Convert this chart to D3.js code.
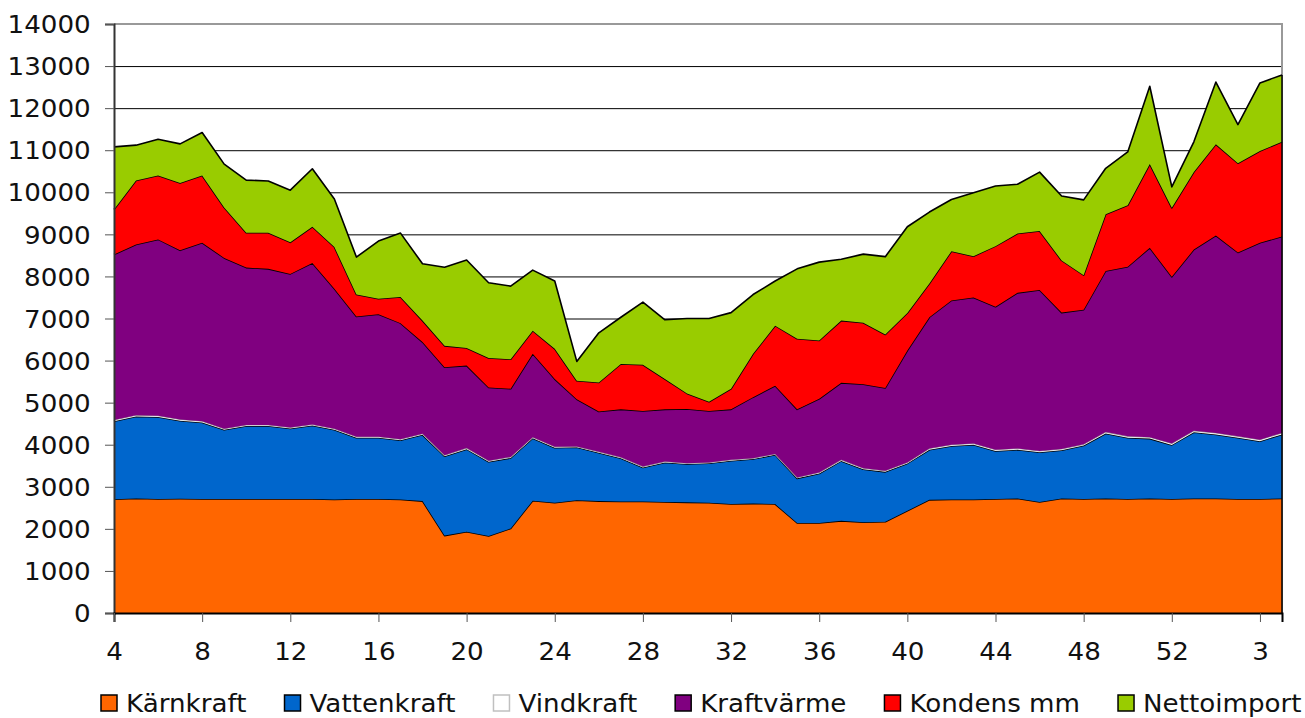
<!DOCTYPE html>
<html>
<head>
<meta charset="utf-8">
<script src="https://cdn.jsdelivr.net/npm/d3@7"></script>
<style>
  body { margin: 0; background: #fff; }
  svg { display: block; font-family: "DejaVu Sans", Verdana, sans-serif; }
</style>
</head>
<body>
<div id="chart"></div>
<script>
// Week numbers (week 4 one year through week 4 the next)
const weeks = [4, 5, 6, 7, 8, 9, 10, 11, 12, 13, 14, 15, 16, 17, 18, 19, 20, 21, 22, 23,
    24, 25, 26, 27, 28, 29, 30, 31, 32, 33, 34, 35, 36, 37, 38, 39, 40, 41, 42, 43,
    44, 45, 46, 47, 48, 49, 50, 51, 52, 53, 1, 2, 3, 4];

const karnkraft = [2706, 2720, 2710, 2715, 2710, 2710, 2710, 2710, 2710, 2710,
    2700, 2710, 2710, 2700, 2660, 1840, 1930, 1830, 2010, 2670,
    2620, 2680, 2660, 2650, 2650, 2640, 2630, 2620, 2590, 2600,
    2590, 2140, 2140, 2190, 2160, 2170, 2430, 2690, 2700, 2700,
    2710, 2720, 2640, 2720, 2710, 2720, 2710, 2720, 2710, 2720,
    2720, 2710, 2710, 2720];

const vattenkraft = [1854, 1950, 1950, 1855, 1820, 1645, 1735, 1735, 1675, 1745,
    1655, 1455, 1455, 1405, 1575, 1885, 1965, 1765, 1675, 1485,
    1310, 1260, 1150, 1030, 810, 940, 910, 940, 1030, 1060,
    1170, 1060, 1175, 1425, 1255, 1185, 1125, 1190, 1270, 1300,
    1140, 1160, 1180, 1150, 1270, 1545, 1455, 1425, 1285, 1575,
    1525, 1455, 1375, 1525];

const vindkraft = [30, 30, 30, 30, 30, 25, 25, 25, 25, 25,
    25, 25, 25, 25, 25, 25, 25, 25, 25, 25,
    20, 20, 20, 20, 20, 20, 20, 20, 20, 20,
    20, 20, 25, 25, 25, 25, 25, 30, 30, 30,
    30, 30, 30, 30, 30, 35, 35, 35, 35, 35,
    35, 35, 35, 35];

const kraftvarme = [3930, 4060, 4190, 4020, 4240, 4060, 3740, 3710, 3650, 3840,
    3330, 2860, 2910, 2760, 2180, 2090, 1960, 1740, 1620, 1980,
    1610, 1120, 960, 1140, 1320, 1240, 1290, 1220, 1200, 1450,
    1620, 1620, 1750, 1830, 2000, 1970, 2660, 3120, 3430, 3470,
    3400, 3700, 3830, 3240, 3200, 3830, 4030, 4500, 3960, 4310,
    4690, 4370, 4680, 4670];

const kondens = [1070, 1520, 1520, 1600, 1600, 1200, 830, 860, 750, 860,
    990, 520, 370, 620, 510, 510, 420, 700, 700, 550,
    720, 440, 690, 1080, 1100, 720, 370, 220, 490, 1030,
    1430, 1680, 1390, 1480, 1460, 1270, 890, 800, 1170, 980,
    1440, 1410, 1400, 1240, 820, 1350, 1460, 1990, 1640, 1840,
    2170, 2120, 2180, 2250];

const nettoimport = [1490, 840, 860, 930, 1020, 1030, 1250, 1230, 1240, 1380,
    1140, 890, 1370, 1520, 1350, 1870, 2090, 1790, 1740, 1440,
    1610, 460, 1180, 1110, 1490, 1410, 1780, 1980, 1810, 1410,
    1060, 1660, 1860, 1460, 1630, 1850, 2050, 1700, 1230, 1510,
    1430, 1170, 1400, 1530, 1790, 1090, 1270, 1850, 500, 720,
    1480, 920, 1620, 1590];

const seriesNames = ["Kärnkraft", "Vattenkraft", "Vindkraft", "Kraftvärme", "Kondens mm", "Nettoimport"];
const seriesValues = [karnkraft, vattenkraft, vindkraft, kraftvarme, kondens, nettoimport];
const colors = ["#FF6600", "#0066CC", "#FFFFFF", "#800080", "#FF0000", "#99CC00"];
const yTicks = [0, 1000, 2000, 3000, 4000, 5000, 6000, 7000, 8000, 9000, 10000, 11000, 12000, 13000, 14000];

// table for d3.stack
const table = weeks.map((w, i) => {
    const row = { idx: i };
    seriesNames.forEach((name, j) => { row[name] = seriesValues[j][i]; });
    return row;
});

const width = 1305;
const height = 718;
const plot = { left: 114, right: 1282, top: 24, bottom: 613 };
const stretch = 1.09; // text in the original is a bit wide
const font = '"DejaVu Sans", Verdana, sans-serif';

const svg = d3.select("#chart")
    .append("svg")
    .attr("width", width)
    .attr("height", height);

const x = d3.scalePoint()
    .domain(d3.range(weeks.length))
    .range([plot.left, plot.right]);

const y = d3.scaleLinear()
    .domain([0, 14000])
    .range([plot.bottom, plot.top]);

// gridlines
svg.append("g")
    .selectAll("line")
    .data(yTicks.filter(d => d > 0 && d < 14000))
    .join("line")
    .attr("x1", plot.left)
    .attr("x2", plot.right)
    .attr("y1", d => y(d) + 0.5)
    .attr("y2", d => y(d) + 0.5)
    .attr("stroke", "#000")
    .attr("stroke-width", 1);

// plot border top + right
svg.append("path")
    .attr("d", `M${plot.left},${y(14000)}H${plot.right}V${plot.bottom}`)
    .attr("fill", "none")
    .attr("stroke", "#999")
    .attr("stroke-width", 2);

const stacked = d3.stack().keys(seriesNames)(table);

const area = d3.area()
    .x(d => x(d.data.idx))
    .y0(d => y(d[0]))
    .y1(d => y(d[1]));

const topLine = d3.line()
    .x(d => x(d.data.idx))
    .y(d => y(d[1]));

const layers = svg.append("g");
stacked.forEach((s, j) => {
    layers.append("path")
        .datum(s)
        .attr("fill", colors[j])
        .attr("d", area);
    layers.append("path")
        .datum(s)
        .attr("fill", "none")
        .attr("stroke", j === 2 ? "#a0a0a0" : "#000")
        .attr("stroke-width", j === 2 ? 1.2 : 1.6)
        .attr("stroke-linejoin", "round")
        .attr("d", topLine);
});

// right edge of the stack
svg.append("line")
    .attr("x1", plot.right).attr("x2", plot.right)
    .attr("y1", y(d3.sum(seriesValues, v => v[weeks.length - 1])))
    .attr("y2", plot.bottom)
    .attr("stroke", "#000")
    .attr("stroke-width", 1.5);

// y axis
const yAxis = svg.append("g")
    .attr("transform", `translate(${plot.left},0)`)
    .call(d3.axisLeft(y).tickValues(yTicks).tickSize(9).tickFormat(d3.format("d")))
    .attr("font-family", font)
    .attr("font-size", 24);
yAxis.select(".domain").attr("stroke", "#333").attr("stroke-width", 2);
yAxis.selectAll(".tick line").attr("stroke", "#555");
yAxis.selectAll("text")
    .attr("x", -21.4)
    .attr("dy", "0.36em")
    .attr("transform", `scale(${stretch},1)`)
    .attr("fill", "#111");

// x axis
const xAxis = svg.append("g")
    .attr("transform", `translate(0,${plot.bottom})`)
    .call(d3.axisBottom(x)
        .tickValues(d3.range(0, weeks.length, 4))
        .tickSize(9)
        .tickPadding(21)
        .tickFormat(i => weeks[i]))
    .attr("font-family", font)
    .attr("font-size", 24);
xAxis.select(".domain").attr("stroke", "#000").attr("stroke-width", 2);
xAxis.selectAll(".tick line").attr("stroke", "#555");
xAxis.selectAll("text")
    .attr("transform", `scale(${stretch},1)`)
    .attr("fill", "#111");

// legend
const legend = svg.append("g");
let lx = 100;
seriesNames.forEach((name, j) => {
    const g = legend.append("g").attr("transform", `translate(${lx},0)`);
    g.append("rect")
        .attr("x", 1).attr("y", 695)
        .attr("width", 16).attr("height", 16)
        .attr("fill", colors[j])
        .attr("stroke", j === 2 ? "#c0c0c0" : "#000")
        .attr("stroke-width", 1.5);
    const t = g.append("text")
        .attr("transform", `translate(26,712) scale(${stretch},1)`)
        .attr("font-size", 24)
        .attr("fill", "#111")
        .text(name);
    lx += 26 + t.node().getComputedTextLength() * stretch + 37;
});
</script>
</body>
</html>
